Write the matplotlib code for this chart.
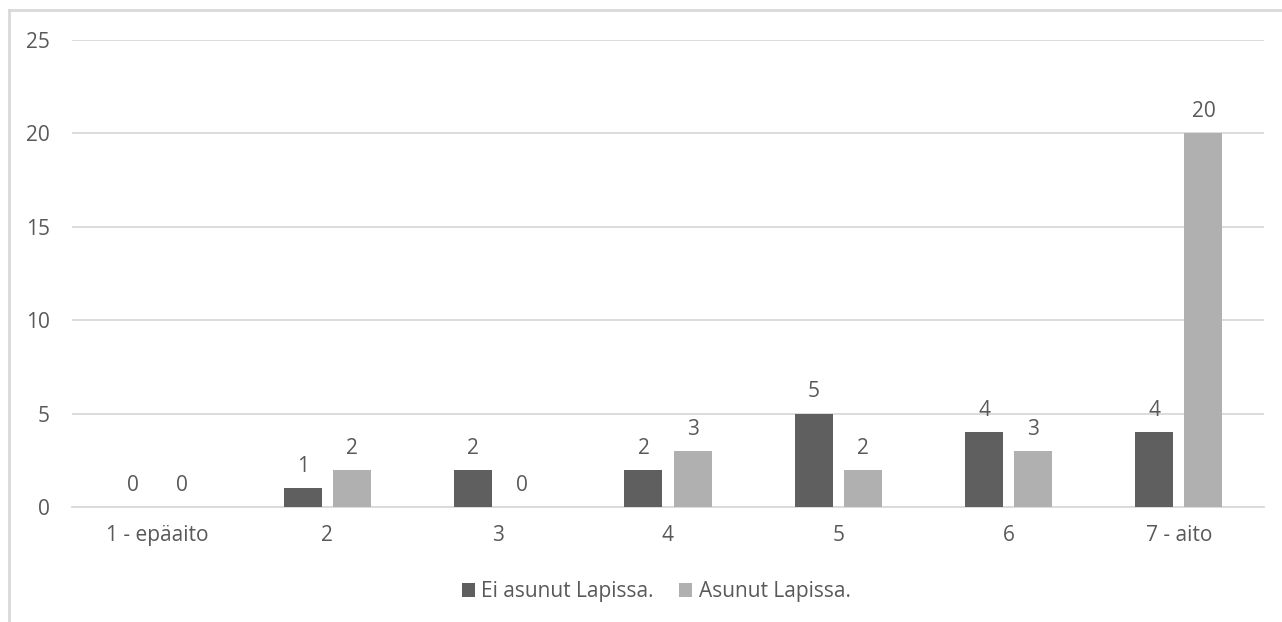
import numpy as np
import matplotlib
matplotlib.use("Agg")
import matplotlib.pyplot as plt
from matplotlib.lines import Line2D

plt.rcParams['font.family'] = ['Open Sans', 'DejaVu Sans']

# Answer scale and counts per group
categories = ["1 - epäaito", "2", "3", "4", "5", "6", "7 - aito"]
ei_asunut = [0, 1, 2, 2, 5, 4, 4]
asunut = [0, 2, 0, 3, 2, 3, 20]
series_names = ["Ei asunut Lapissa.", "Asunut Lapissa."]
y_ticks = [0, 5, 10, 15, 20, 25]

TEXT = "#595959"
GRID = "#d9d9d9"
DARK = "#5f5f5f"
LIGHT = "#b0b0b0"
FS = 15

fig = plt.figure(figsize=(12.82, 6.22), dpi=100)
ax = fig.add_axes([72 / 1282, 1 - 507 / 622, 1192 / 1282, 467 / 622])

x = np.arange(len(categories))
width = 0.223
offset = 0.144

bars1 = ax.bar(x - offset, ei_asunut, width, color=DARK, label=series_names[0], zorder=3)
bars2 = ax.bar(x + offset, asunut, width, color=LIGHT, label=series_names[1], zorder=3)

for bars, vals in ((bars1, ei_asunut), (bars2, asunut)):
    for b, v in zip(bars, vals):
        ax.annotate(str(v), (b.get_x() + b.get_width() / 2, v),
                    xytext=(0, 8), textcoords="offset points",
                    ha="center", va="bottom", fontsize=FS, color=TEXT)

ax.set_xlim(-0.5, len(categories) - 0.5)
ax.set_ylim(0, 25)
ax.set_yticks(y_ticks)
ax.set_xticks(x)
ax.set_xticklabels(categories)
ax.tick_params(axis="both", length=0, labelsize=FS, labelcolor=TEXT)
ax.tick_params(axis="y", pad=16)
ax.tick_params(axis="x", pad=13)
ax.yaxis.grid(True, color=GRID, linewidth=1.3, zorder=0)
for s in ("top", "right", "left"):
    ax.spines[s].set_visible(False)
ax.spines["bottom"].set_color(GRID)
ax.spines["bottom"].set_linewidth(1.3)
ax.spines["bottom"].set_zorder(1)

fig.legend(handles=[bars1, bars2], labels=series_names, loc="center",
           bbox_to_anchor=(656 / 1282, 1 - 592 / 622), ncol=2, frameon=False,
           fontsize=FS, labelcolor=TEXT, handlelength=0.65, handleheight=0.65,
           handletextpad=0.3, columnspacing=1.2)

# chart area border, running off the bottom-right of the canvas
fx, fy = 9 / 1282, 1 - 10 / 622
fig.add_artist(Line2D([fx, 1], [fy, fy], color=GRID, linewidth=2, transform=fig.transFigure))
fig.add_artist(Line2D([fx, fx], [0, fy], color=GRID, linewidth=2, transform=fig.transFigure))

fig.savefig("out.png", dpi=100, facecolor="white")
